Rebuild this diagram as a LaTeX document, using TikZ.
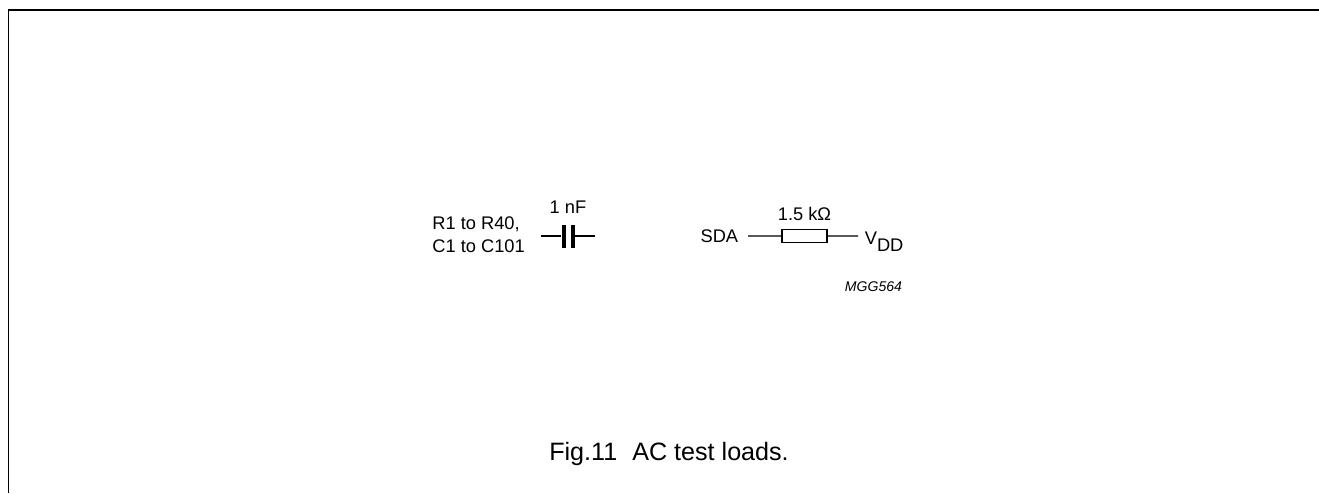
\documentclass[tikz,border=0pt]{standalone}
\usepackage{fontspec}
\setmainfont{Liberation Sans}
\usetikzlibrary{positioning}

\tikzset{
  wire/.style={line width=0.025cm},
  plate/.style={fill=black, inner sep=0, minimum width=0.08cm, minimum height=0.46cm},
  resbox/.style={draw, line width=0.025cm, inner sep=0, minimum width=0.9cm, minimum height=0.27cm},
  lbl/.style={font=\fontsize{10.4}{13}\selectfont, inner sep=0},
}

\begin{document}
\begin{tikzpicture}
  \useasboundingbox (0,0) rectangle (26.38,9.86);

  % frame
  \coordinate (framebl) at (0.17,0);
  \coordinate (frametr) at (26.38,9.66);
  \draw[line width=0.035cm] (framebl) |- (frametr);

  % capacitor
  \begin{scope}[xshift=11.36cm, yshift=5.14cm]
    \node[plate] (platea) at (-0.09,0) {};
    \node[plate] (plateb) at (0.09,0) {};
    \coordinate (capl) at (-0.54,0);
    \coordinate (capr) at (0.54,0);
    \draw[wire] (capl) -- (platea);
    \draw[wire] (plateb) -- (capr);
    \node[lbl] (capval) at (0,0.58) {1 nF};
  \end{scope}
  \node[lbl, align=left, anchor=west] (caplist) at (8.64,5.16) {R1 to R40,\\C1 to C101};

  % pull-up resistor
  \begin{scope}[xshift=16.09cm, yshift=5.14cm]
    \node[resbox] (res) at (0,0) {};
    \node[lbl] (resval) at (0,0.44) {1.5 kΩ};
    \node[lbl, anchor=east] (sda) at (-1.32,0) {SDA};
    \node[lbl, anchor=base west] (vdd) at (1.2,-0.16) {V\raisebox{-0.14cm}{DD}};
  \end{scope}
  \coordinate (sdaend) at (14.96,5.14);
  \coordinate (vddend) at (17.16,5.14);
  \draw[wire] (sdaend) -- (res);
  \draw[wire] (res) -- (vddend);

  \node[font=\fontsize{8}{10}\selectfont\itshape, inner sep=0] (code) at (17.47,4.12) {MGG564};
  \node[font=\fontsize{14.3}{17}\selectfont, inner sep=0] (caption) at (13.38,0.79) {Fig.11\hspace{0.6em}AC test loads.};
\end{tikzpicture}
\end{document}
